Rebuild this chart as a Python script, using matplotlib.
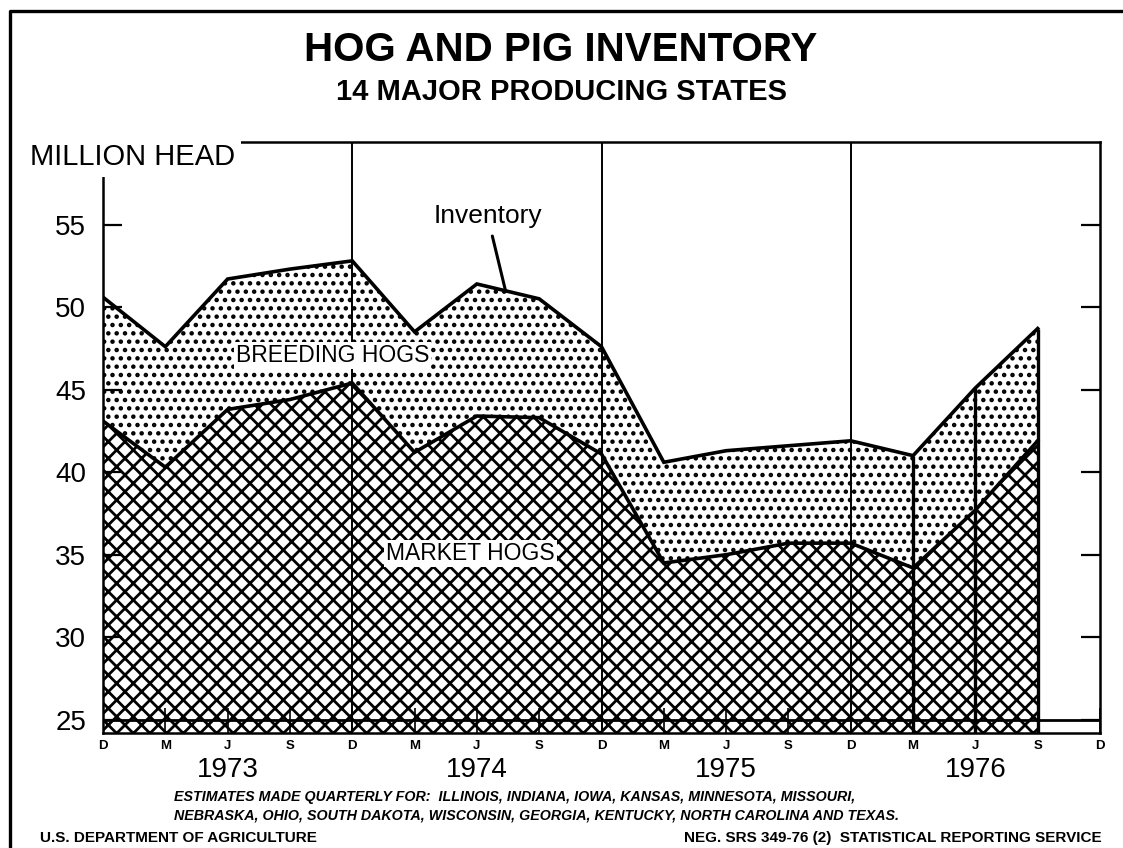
import numpy as np
import matplotlib
matplotlib.use('Agg')
import matplotlib.pyplot as plt
from matplotlib import font_manager
from matplotlib.lines import Line2D

# quarterly estimates, Dec 1972 .. Sep 1976 (million head, 14 states)
quarter_labels = ['D', 'M', 'J', 'S', 'D', 'M', 'J', 'S', 'D',
                  'M', 'J', 'S', 'D', 'M', 'J', 'S', 'D']
years = ['1973', '1974', '1975', '1976']
inventory = [50.6, 47.6, 51.7, 52.3, 52.8, 48.5, 51.4, 50.5,
             47.6, 40.6, 41.3, 41.6, 41.9, 41.0, 45.1, 48.7]
market_hogs = [43.1, 40.3, 43.8, 44.4, 45.4, 41.2, 43.4, 43.3,
               41.1, 34.5, 35.0, 35.7, 35.7, 34.2, 37.7, 41.9]
y_ticks = [25, 30, 35, 40, 45, 50, 55]

installed = {f.name for f in font_manager.fontManager.ttflist}
NARROW = 'Liberation Sans Narrow' if 'Liberation Sans Narrow' in installed else 'Liberation Sans'
plt.rcParams['font.family'] = ['Liberation Sans', 'DejaVu Sans']
plt.rcParams['hatch.linewidth'] = 2.0
plt.rcParams['hatch.color'] = 'black'

W, H = 1123, 848
fig = plt.figure(figsize=(W / 100, H / 100), dpi=100)

def px(x, y):
    return x / W, 1 - y / H

ax = fig.add_axes([103 / W, 1 - 733 / H, 997 / W, 591 / H])
ax.set_xlim(0, 16)
ax.set_ylim(24.2, 60)

x = np.arange(len(inventory))
ybot = ax.get_ylim()[0]

ax.fill_between(x, ybot, market_hogs, facecolor='white', edgecolor='black',
                hatch='xx', linewidth=0, zorder=1)
ax.fill_between(x, market_hogs, inventory, facecolor='white', edgecolor='black',
                hatch='..', linewidth=0, zorder=1)
ax.plot(x, inventory, color='black', lw=2.6, zorder=3, solid_joinstyle='miter')
ax.plot(x, market_hogs, color='black', lw=2.6, zorder=3, solid_joinstyle='miter')

# year dividers
for q in x[4::4]:
    ax.axvline(q, color='black', lw=1.4, zorder=2)
# heavy verticals at the last three quarters
ax.vlines(x[13:], ybot, np.array(inventory)[13:], color='black', lw=2.4, zorder=3)

ax.axhline(25, color='black', lw=2.0, zorder=3)
# small quarter marks on the base line
ax.vlines(np.arange(len(quarter_labels)), ybot, 25.7, color='black', lw=1.2, zorder=3)

for s in ax.spines.values():
    s.set_linewidth(1.8)

ax.set_yticks(y_ticks)
ax.set_yticklabels([str(v) for v in y_ticks], fontsize=20)
ax.tick_params(axis='y', direction='in', length=14, width=1.6, pad=12,
               left=True, right=True)
ax.set_xticks(np.arange(len(quarter_labels)))
ax.set_xticklabels(quarter_labels, fontsize=9.5, fontweight='bold')
ax.tick_params(axis='x', length=0, pad=5)

for i, yr in enumerate(years):
    ax.text(2 + 4 * i, -0.063, yr, transform=ax.get_xaxis_transform(),
            ha='center', va='center', fontsize=23 if NARROW != 'Liberation Sans' else 20,
            family=[NARROW, 'DejaVu Sans'])

box = dict(facecolor='white', edgecolor='none', pad=1.5)
ax.text(3.68, 47.06, 'BREEDING HOGS', fontsize=16.5, ha='center', va='center',
        bbox=box, zorder=5)
ax.text(5.9, 35.06, 'MARKET HOGS', fontsize=16.5, ha='center', va='center',
        bbox=box, zorder=5)
lead_x = 6.46
ax.annotate('Inventory', xy=(lead_x, np.interp(lead_x, x, inventory)),
            xytext=(6.17, 55.1), ha='center', va='baseline', fontsize=19,
            arrowprops=dict(arrowstyle='-', color='black', lw=2.2,
                            shrinkA=4, shrinkB=0), zorder=5)

# axis unit label sits on the top-left corner of the frame
ax.text(-73 / 997, 1 - 15 / 591, 'MILLION HEAD', transform=ax.transAxes,
        fontsize=21, ha='left', va='center', zorder=6,
        bbox=dict(facecolor='white', edgecolor='none', pad=4))

fig.text(*px(561, 50), 'HOG AND PIG INVENTORY', fontsize=29, fontweight='bold',
         ha='center', va='center')
fig.text(*px(561, 92), '14 MAJOR PRODUCING STATES', fontsize=21, fontweight='bold',
         ha='center', va='center')

fig.text(*px(174, 797), 'ESTIMATES MADE QUARTERLY FOR:  ILLINOIS, INDIANA, IOWA, '
         'KANSAS, MINNESOTA, MISSOURI,', fontsize=10.3, fontweight='bold',
         style='italic', ha='left', va='center', family=[NARROW, 'DejaVu Sans'])
fig.text(*px(174, 815), 'NEBRASKA, OHIO, SOUTH DAKOTA, WISCONSIN, GEORGIA, '
         'KENTUCKY, NORTH CAROLINA AND TEXAS.', fontsize=10.3, fontweight='bold',
         style='italic', ha='left', va='center', family=[NARROW, 'DejaVu Sans'])
fig.text(*px(40, 838), 'U.S. DEPARTMENT OF AGRICULTURE', fontsize=11,
         fontweight='bold', ha='left', va='center', family=[NARROW, 'DejaVu Sans'])
fig.text(*px(1102, 838), 'NEG. SRS 349-76 (2)  STATISTICAL REPORTING SERVICE',
         fontsize=11, fontweight='bold', ha='right', va='center',
         family=[NARROW, 'DejaVu Sans'])

# outer frame of the plate (left and top edges only)
fx = [10 / W, 10 / W, 1.0]
fy = [0, 1 - 11 / H, 1 - 11 / H]
fig.add_artist(Line2D(fx, fy, transform=fig.transFigure, color='black', lw=2.4))

fig.savefig('out.png', dpi=100)
